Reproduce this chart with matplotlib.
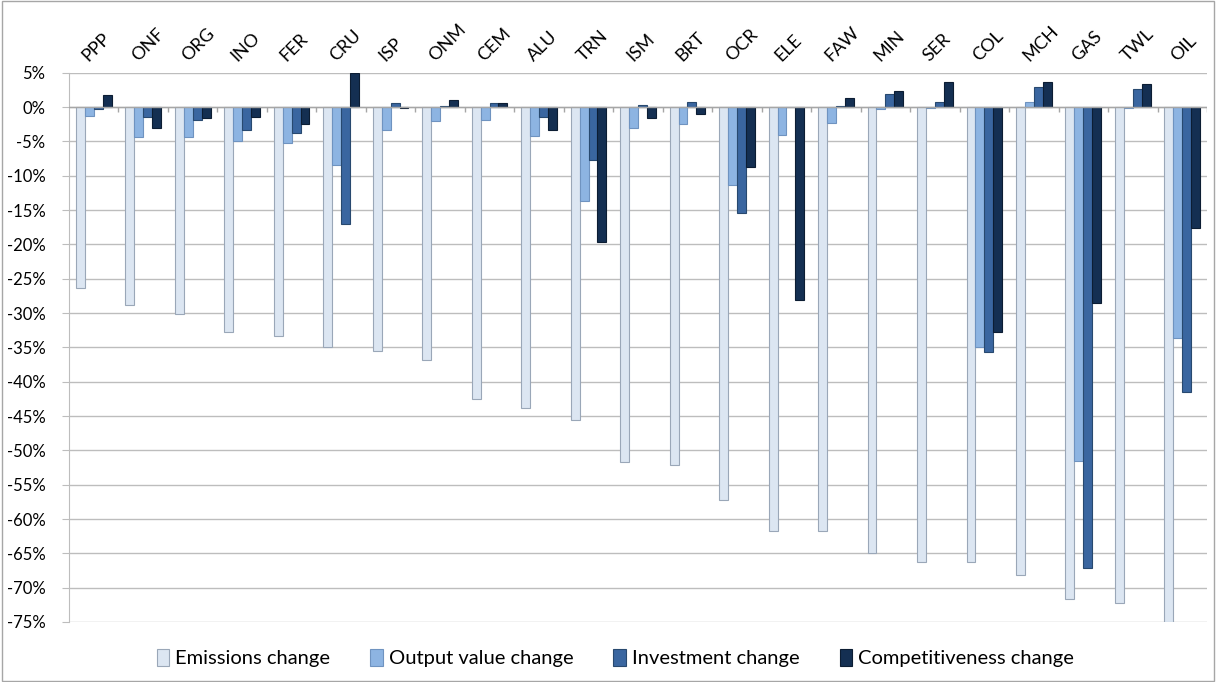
import matplotlib.pyplot as plt
import matplotlib.transforms as mtransforms
from matplotlib.patches import Rectangle
import numpy as np

plt.rcParams['font.family'] = ['Lato', 'DejaVu Sans']

# sectors
sectors = ["PPP", "ONF", "ORG", "INO", "FER", "CRU", "ISP", "ONM", "CEM", "ALU", "TRN", "ISM",
           "BRT", "OCR", "ELE", "FAW", "MIN", "SER", "COL", "MCH", "GAS", "TWL", "OIL"]

# % changes per sector
emissions = [-26.3, -28.8, -30.2, -32.8, -33.4, -35.0, -35.6, -36.9, -42.5, -43.8, -45.6, -51.7,
             -52.2, -57.3, -61.7, -61.7, -65.0, -66.3, -66.3, -68.2, -71.7, -72.2, -75.0]
output_value = [-1.3, -4.3, -4.4, -5.0, -5.2, -8.5, -3.4, -2.1, -1.9, -4.2, -13.7, -3.1,
                -2.4, -11.3, -4.1, -2.3, -0.3, -0.1, -35.0, 0.8, -51.5, -0.2, -33.6]
investment = [-0.3, -1.4, -1.9, -3.3, -3.8, -17.1, 0.6, 0.1, 0.6, -1.4, -7.7, 0.25,
              0.7, -15.4, 0.0, 0.1, 1.9, 0.8, -35.7, 2.9, -67.2, 2.6, -41.5]
competitiveness = [1.8, -3.1, -1.6, -1.4, -2.4, 5.0, -0.1, 1.0, 0.6, -3.3, -19.7, -1.6,
                   -1.0, -8.7, -28.1, 1.3, 2.4, 3.6, -32.7, 3.7, -28.6, 3.4, -17.6]

series = [
    ("Emissions change", emissions, "#dce6f2", "#9aa7b8"),
    ("Output value change", output_value, "#8db4e2", "#6f93c0"),
    ("Investment change", investment, "#3a66a0", "#28496f"),
    ("Competitiveness change", competitiveness, "#142f52", "#0c1d33"),
]

fig = plt.figure(figsize=(12.16, 6.82), dpi=100)
ax = fig.add_axes([69 / 1216, 60 / 682, 1138 / 1216, 549.3 / 682])

x = np.arange(len(sectors))
w = 0.18
for k, (name, vals, fc, ec) in enumerate(series):
    ax.bar(x + (k - 1.5) * w, vals, width=w, color=fc, edgecolor=ec, linewidth=0.8,
           label=name, zorder=3)

ax.set_xlim(-0.5, len(sectors) - 0.5)
ax.set_ylim(-75, 5)
ax.set_yticks(np.arange(-75, 6, 5))
ax.set_yticklabels([f"{v}%" for v in range(-75, 6, 5)], fontsize=12)
ax.yaxis.grid(True, color="#bdbdbd", linewidth=1, zorder=0)
ax.tick_params(axis="y", length=5, color="#bdbdbd", pad=12)
ax.set_xticks([])

for s in ["top", "right", "bottom"]:
    ax.spines[s].set_visible(False)
ax.spines["left"].set_color("#bdbdbd")

# zero axis with category separators
ax.axhline(0, color="#a6a6a6", linewidth=1, zorder=4)
ax.vlines(x + 0.5, -0.7, 0, color="#a6a6a6", linewidth=1, zorder=4)

# category labels along the top
trans = mtransforms.blended_transform_factory(ax.transData, ax.transAxes)
for i, s in enumerate(sectors):
    ax.text(i - 0.1, 1.02, s, transform=trans, rotation=45, rotation_mode="anchor",
            ha="left", va="baseline", fontsize=13)

fig.legend(loc="center", bbox_to_anchor=(0.506, 0.035), ncol=4, frameon=False,
           fontsize=14.5, handlelength=0.6, handleheight=0.9, handletextpad=0.3,
           columnspacing=2.0)

fig.patches.append(Rectangle((0.0015, 0.002), 0.997, 0.996, transform=fig.transFigure,
                             fill=False, edgecolor="#a6a6a6", linewidth=1))

fig.savefig("out.png", dpi=100)
